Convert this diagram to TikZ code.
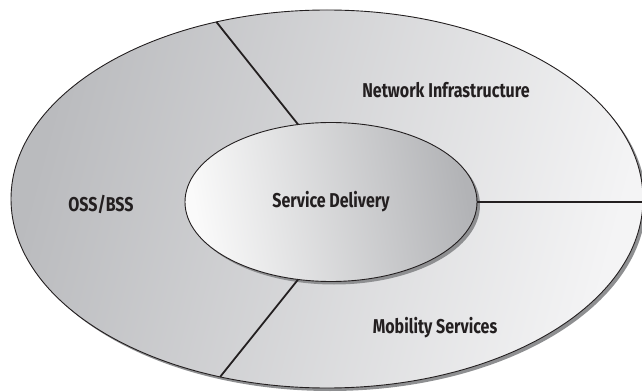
\documentclass[tikz,border=0pt]{standalone}
\usepackage{fontspec}
\setmainfont{Fira Sans}[FakeStretch=0.80]
\usetikzlibrary{shapes.geometric}
\definecolor{ringdark}{HTML}{BABBBE}
\definecolor{ringlight}{HTML}{F4F4F5}
\definecolor{coredark}{HTML}{B2B3B6}
\definecolor{corelight}{HTML}{FAFAFA}
\definecolor{shadowgray}{HTML}{8E8F91}
\definecolor{inkline}{HTML}{231F20}
\tikzset{
  ring/.style={ellipse, draw=inkline, line width=0.9pt, inner sep=0pt, outer sep=0pt,
    left color=ringdark, right color=ringlight, shading angle=75},
  core/.style={ellipse, draw=inkline, line width=0.9pt, inner sep=0pt, outer sep=0pt,
    left color=corelight, right color=coredark, shading angle=100,
    font=\bfseries\fontsize{20}{23}\selectfont, text=inkline},
  shade/.style={ellipse, fill=shadowgray, inner sep=0pt, outer sep=0pt},
  divider/.style={draw=inkline, line width=1.8pt},
  sector/.style={font=\bfseries\fontsize{20}{23}\selectfont, text=inkline}
}
\begin{document}
\begin{tikzpicture}[x=1pt,y=1pt]
  \useasboundingbox (0,0) rectangle (642,391);
  % outer ring with its drop shadow
  \node[shade, minimum width=632pt, minimum height=378pt] at (330,189) {};
  \node[ring, minimum width=632pt, minimum height=378pt] (outer) at (327,192) {};
  % inner core with its drop shadow
  \node[shade, minimum width=292pt, minimum height=159pt] at (334,186) {};
  \node[core, minimum width=292pt, minimum height=159pt] (inner) at (331,189) {Service Delivery};
  % dividers between the three sectors
  \draw[divider] (outer.122) -- (inner.113);
  \draw[divider] (outer.239) -- (inner.247);
  \draw[divider] (inner.east) -- (inner.east -| outer.east);
  % sector labels
  \node[sector] (net) at (446,301) {Network Infrastructure};
  \node[sector] (oss) at (101,187) {OSS/BSS};
  \node[sector] (mob) at (435,63) {Mobility Services};
\end{tikzpicture}
\end{document}
